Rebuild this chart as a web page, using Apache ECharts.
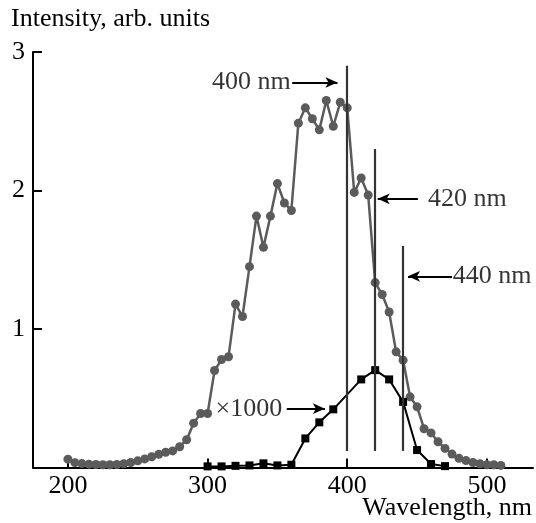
<!DOCTYPE html>
<html>
<head>
<meta charset="utf-8">
<script src="https://cdn.jsdelivr.net/npm/echarts@6/dist/echarts.min.js"></script>
<style>
  html, body { margin: 0; padding: 0; background: #fff; }
  #chart { width: 536px; height: 523px; }
</style>
</head>
<body>
<div id="chart"></div>
<script>
// Broad emission spectrum (grey circles), 5 nm step
const wavelengthBroad = [
  200, 205, 210, 215, 220, 225, 230, 235, 240, 245, 250, 255, 260, 265, 270, 275, 280,
  285, 290, 295, 300, 305, 310, 315, 320, 325, 330, 335, 340, 345, 350, 355, 360,
  365, 370, 375, 380, 385, 390, 395, 400, 405, 410, 415, 420, 425, 430, 435, 440,
  445, 450, 455, 460, 465, 470, 475, 480, 485, 490, 495, 500, 505, 510
];
const intensityBroad = [
  0.06, 0.035, 0.028, 0.024, 0.022, 0.02, 0.02, 0.022, 0.027, 0.036, 0.048, 0.062, 0.078, 0.095, 0.11, 0.12, 0.15,
  0.2, 0.32, 0.39, 0.39, 0.70, 0.78, 0.80, 1.18, 1.09, 1.45, 1.815, 1.59, 1.815, 2.05, 1.91, 1.856,
  2.486, 2.597, 2.518, 2.438, 2.65, 2.464, 2.637, 2.597, 1.986, 2.09, 1.967, 1.335, 1.249, 1.123, 0.835, 0.775,
  0.51, 0.438, 0.28, 0.25, 0.186, 0.138, 0.097, 0.066, 0.05, 0.036, 0.027, 0.02, 0.02, 0.015
];

// Narrow band (black squares), shown multiplied by 1000
const wavelengthNarrow = [300, 310, 320, 330, 340, 350, 360, 370, 380, 390, 410, 420, 430, 440, 450, 460, 470];
const intensityNarrow = [0.008, 0.008, 0.012, 0.015, 0.03, 0.015, 0.02, 0.21, 0.326, 0.42, 0.636, 0.703, 0.636, 0.474, 0.126, 0.025, 0.01];

// Excitation wavelengths marked by vertical lines
const excitationWavelengths = [400, 420, 440];
const excitationTops = [2.9, 2.3, 1.6];
const excitationBottom = 0.12;
const excitationLabels = ['400 nm', '420 nm', '440 nm'];
const scaleLabel = '\u00d71000';

// Axis ticks
const xTickValues = [200, 300, 400, 500];
const yTickValues = [1, 2, 3];

const SERIF = '"Liberation Serif", "DejaVu Serif", serif';
const GREY = '#5b5b5b';

const chart = echarts.init(document.getElementById('chart'), null, { renderer: 'canvas' });

// Vertical lines
const verticalLines = excitationWavelengths.map((w, i) => [
  { coord: [w, excitationBottom], symbol: 'none' },
  { coord: [w, excitationTops[i]], symbol: 'none' }
]);

// Arrows leading from the labels to the lines
const arrowHead = { symbol: 'arrow', symbolSize: [8, 12] };
const arrows = [
  [{ coord: [360.6, 2.78], symbol: 'none' }, Object.assign({ coord: [393, 2.78] }, arrowHead)],
  [{ coord: [450.6, 1.94], symbol: 'none' }, Object.assign({ coord: [421.8, 1.94] }, arrowHead)],
  [{ coord: [475, 1.38], symbol: 'none' }, Object.assign({ coord: [443.5, 1.38] }, arrowHead)],
  [{ coord: [356.7, 0.425], symbol: 'none' }, Object.assign({ coord: [384, 0.425] }, arrowHead)]
];

const noteLabels = [
  { name: excitationLabels[0], value: [359.6, 2.78], label: { position: 'left' } },
  { name: excitationLabels[1], value: [457.8, 1.94], label: { position: 'right' } },
  { name: excitationLabels[2], value: [475.6, 1.38], label: { position: 'right' } },
  { name: scaleLabel, value: [353.4, 0.42], label: { position: 'left' } }
];

const option = {
  animation: false,
  backgroundColor: '#fff',
  title: {
    text: 'Intensity, arb. units',
    left: 11,
    top: 6,
    padding: 0,
    textStyle: { fontFamily: SERIF, fontSize: 26, fontWeight: 'normal', color: '#000' }
  },
  graphic: [{
    type: 'text',
    right: 4,
    top: 495,
    style: { text: 'Wavelength, nm', font: '26px ' + SERIF, fill: '#000' }
  }],
  grid: { left: 33, right: 3, top: 52, bottom: 55.5, containLabel: false },
  xAxis: {
    type: 'value',
    min: 175,
    max: 533,
    axisLine: { show: true, onZero: false, lineStyle: { color: '#000', width: 2 } },
    axisTick: { show: true, inside: true, length: 9, customValues: xTickValues, lineStyle: { color: '#000', width: 2 } },
    axisLabel: { customValues: xTickValues, fontFamily: SERIF, fontSize: 26, color: '#000', margin: 6 },
    splitLine: { show: false }
  },
  yAxis: {
    type: 'value',
    min: 0,
    max: 3,
    axisLine: { show: true, lineStyle: { color: '#000', width: 2 } },
    axisTick: { show: true, inside: true, length: 9, customValues: yTickValues, lineStyle: { color: '#000', width: 2 } },
    axisLabel: { customValues: yTickValues, fontFamily: SERIF, fontSize: 26, color: '#000', margin: 8 },
    splitLine: { show: false }
  },
  series: [
    {
      name: 'broad',
      type: 'line',
      data: wavelengthBroad.map((w, i) => [w, intensityBroad[i]]),
      symbol: 'circle',
      symbolSize: 9,
      showAllSymbol: true,
      itemStyle: { color: GREY },
      lineStyle: { color: GREY, width: 2.5 },
      z: 3
    },
    {
      name: 'narrow',
      type: 'line',
      data: wavelengthNarrow.map((w, i) => [w, intensityNarrow[i]]),
      symbol: 'rect',
      symbolSize: 8,
      showAllSymbol: true,
      itemStyle: { color: '#000' },
      lineStyle: { color: '#000', width: 2 },
      z: 4
    },
    {
      name: 'notes',
      type: 'scatter',
      data: noteLabels,
      symbolSize: 0,
      silent: true,
      label: {
        show: true,
        formatter: '{b}',
        distance: 0,
        fontFamily: SERIF,
        fontSize: 26,
        color: '#000'
      },
      markLine: {
        silent: true,
        animation: false,
        label: { show: false },
        emphasis: { disabled: true },
        lineStyle: { color: '#000', width: 1.8, type: 'solid' },
        data: arrows
      },
      z: 5
    },
    {
      name: 'lines',
      type: 'scatter',
      data: excitationWavelengths.map((w, i) => [w, excitationTops[i]]),
      symbolSize: 0,
      silent: true,
      markLine: {
        silent: true,
        animation: false,
        symbol: ['none', 'none'],
        label: { show: false },
        emphasis: { disabled: true },
        lineStyle: { color: '#333', width: 2.2, type: 'solid' },
        data: verticalLines
      },
      z: 2
    }
  ]
};

chart.setOption(option);
</script>
</body>
</html>
